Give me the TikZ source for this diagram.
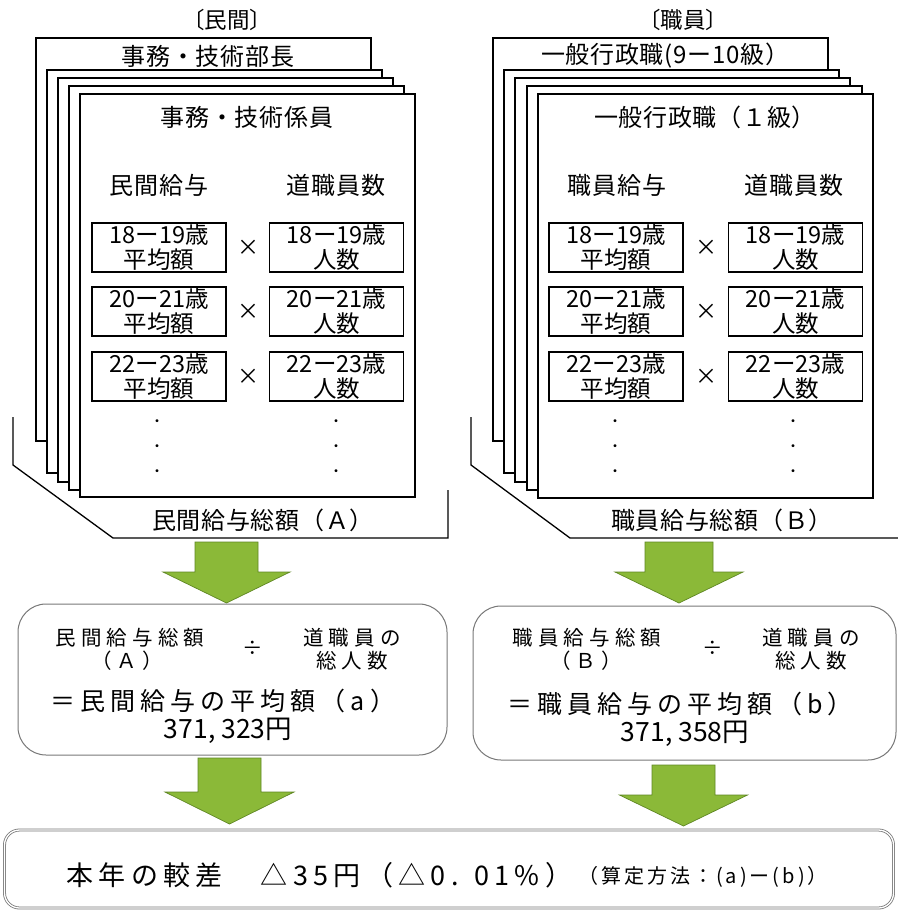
\documentclass[tikz,border=0pt]{standalone}
\usepackage{fontspec}
\setmainfont{Noto Sans CJK JP}
\newfontfamily\jpA[LetterSpace=3]{Noto Sans CJK JP}
\newfontfamily\jpB[LetterSpace=25]{Noto Sans CJK JP}
\newfontfamily\jpBB[LetterSpace=20]{Noto Sans CJK JP}
\newfontfamily\jpC[LetterSpace=20]{Noto Sans CJK JP}
\newfontfamily\jpD[LetterSpace=15]{Noto Sans CJK JP}
\definecolor{agreen}{RGB}{139,185,56}
\definecolor{aedge}{RGB}{95,135,35}
\definecolor{boxgray}{RGB}{120,120,120}
\tikzset{
  sheet/.style={draw=black, fill=white, line width=1.6pt},
  bracketline/.style={draw=black, line width=1.3pt},
  txt/.style={inner sep=0pt, font=\jpA\fontsize{24}{26}\selectfont},
  headtxt/.style={inner sep=0pt, font=\fontsize{22.5}{25}\selectfont},
  cell/.style={draw=black, line width=1.6pt, inner sep=0pt, minimum width=134pt, minimum height=49pt, align=center, font=\fontsize{23.5}{25}\selectfont},
  timesmark/.style={inner sep=0pt, font=\fontsize{22}{24}\selectfont},
  dotmark/.style={inner sep=0pt, font=\fontsize{14}{16}\selectfont},
  rbox/.style={draw=boxgray, line width=1pt, rounded corners=28pt, fill=white},
  rtxt/.style={inner sep=0pt, align=center, font=\jpB\fontsize{20.5}{23}\selectfont},
  rbig/.style={inner sep=0pt, font=\jpBB\fontsize{25}{28}\selectfont},
  rnum/.style={inner sep=0pt, font=\fontsize{26.5}{29}\selectfont},
  finalbox/.style={draw=boxgray, line width=0.8pt, double=white, double distance=1.3pt, rounded corners=15pt},
  ftxt/.style={inner sep=0pt, font=\jpC\fontsize{27}{30}\selectfont},
  fsmall/.style={inner sep=0pt, font=\jpD\fontsize{20}{23}\selectfont},
  garrow/.style={fill=agreen, draw=aedge, line width=0.7pt, line join=miter}
}
\newcommand\blockarrowdraw[6]{%
  \draw[garrow] ({#1-#5},#2) -- ({#1+#5},#2) -- ({#1+#5},#3) -- ({#1+#6},#3)
    -- (#1,#4) -- ({#1-#6},#3) -- ({#1-#5},#3) -- cycle;}
\begin{document}
\begin{tikzpicture}[x=1pt,y=-1pt]
\useasboundingbox[fill=white] (0,0) rectangle (897,910);

% ===== left stack (private sector) =====
\draw[bracketline] (13,417) -- (13,465) -- (113,538) -- (448,538) -- (448,490);
\draw[sheet] (36,38) rectangle (371,441);
\draw[sheet] (47,70) rectangle (382,473);
\draw[sheet] (58,78) rectangle (393,482);
\draw[sheet] (69,86) rectangle (404,490);
\draw[sheet] (80,94) rectangle (415,497);

\node[headtxt] (lhead) at (227,20) {〔民間〕};
\node[txt] (ltop) at (208,56) {事務・技術部長};
\node[txt] (lfront) at (247,117) {事務・技術係員};
\node[txt] (lcolA) at (159,185) {民間給与};
\node[txt] (lcolB) at (336,185) {道職員数};

\node[cell] (la1) at (159,247.5) {18ー19歳\\平均額};
\node[cell] (lb1) at (336.5,247.5) {18ー19歳\\人数};
\node[cell] (la2) at (159,311.5) {20ー21歳\\平均額};
\node[cell] (lb2) at (336.5,311.5) {20ー21歳\\人数};
\node[cell] (la3) at (159,376.5) {22ー23歳\\平均額};
\node[cell] (lb3) at (336.5,376.5) {22ー23歳\\人数};
\node[timesmark] (lx1) at (248,248) {×};
\node[timesmark] (lx2) at (248,312) {×};
\node[timesmark] (lx3) at (248,377) {×};
\foreach \yy [count=\i] in {423,448,473} {
  \node[dotmark] (ldA\i) at (157,\yy) {・};
  \node[dotmark] (ldB\i) at (336,\yy) {・};
}
\node[txt] (lsum) at (263,520) {民間給与総額（Ａ）};

% ===== right stack (staff) =====
\draw[bracketline] (471,417) -- (471,465) -- (570,538) -- (905,538) -- (905,490);
\draw[sheet] (493,38) rectangle (828,441);
\draw[sheet] (504,70) rectangle (839,473);
\draw[sheet] (515,78) rectangle (850,482);
\draw[sheet] (527,86) rectangle (862,490);
\draw[sheet] (538,94) rectangle (873,498);

\node[headtxt] (rhead) at (683,20) {〔職員〕};
\node[txt] (rtop) at (665,56) {一般行政職(9ー10級）};
\node[txt] (rfront) at (705,117) {一般行政職（１級）};
\node[txt] (rcolA) at (617,185) {職員給与};
\node[txt] (rcolB) at (794,185) {道職員数};

\node[cell] (ra1) at (616,247.5) {18ー19歳\\平均額};
\node[cell] (rb1) at (795.5,247.5) {18ー19歳\\人数};
\node[cell] (ra2) at (616,311.5) {20ー21歳\\平均額};
\node[cell] (rb2) at (795.5,311.5) {20ー21歳\\人数};
\node[cell] (ra3) at (616,376.5) {22ー23歳\\平均額};
\node[cell] (rb3) at (795.5,376.5) {22ー23歳\\人数};
\node[timesmark] (rx1) at (706,248) {×};
\node[timesmark] (rx2) at (706,312) {×};
\node[timesmark] (rx3) at (706,377) {×};
\foreach \yy [count=\i] in {423,448,473} {
  \node[dotmark] (rdA\i) at (615,\yy) {・};
  \node[dotmark] (rdB\i) at (793,\yy) {・};
}
\node[txt] (rsum) at (722,520) {職員給与総額（Ｂ）};

% ===== arrows, first row =====
\blockarrowdraw{226.5}{542}{572}{603}{31.5}{63.5}
\blockarrowdraw{679}{542}{572}{603}{34}{64}

% ===== average boxes =====
\node[rbox, minimum width=429pt, minimum height=151pt] (avgA) at (232.5,679.5) {};
\node[rtxt] (avgA1) at (130,638) {民間給与総額};
\node[rtxt] (avgA2) at (127,661) {（Ａ）};
\node[rtxt] (avgAdiv) at (253,648) {÷};
\node[rtxt] (avgA3) at (352,638) {道職員の};
\node[rtxt] (avgA4) at (352,661) {総人数};
\node[rbig] (avgA5) at (223,701) {＝民間給与の平均額（a）};
\node[rnum] (avgA6) at (228,731) {371, 323円};

\node[rbox, minimum width=423pt, minimum height=154pt] (avgB) at (684.5,683) {};
\node[rtxt] (avgB1) at (587,638) {職員給与総額};
\node[rtxt] (avgB2) at (586,661) {（Ｂ）};
\node[rtxt] (avgBdiv) at (713,648) {÷};
\node[rtxt] (avgB3) at (811,638) {道職員の};
\node[rtxt] (avgB4) at (811,661) {総人数};
\node[rbig] (avgB5) at (680,704) {＝職員給与の平均額（b）};
\node[rnum] (avgB6) at (685,734) {371, 358円};

% ===== arrows, second row =====
\blockarrowdraw{229.5}{758}{792}{824}{31.5}{64.5}
\blockarrowdraw{683.5}{765}{795}{826}{31.5}{64}

% ===== final box =====
\node[finalbox, minimum width=889pt, minimum height=78pt] (diff) at (449,869) {};
\node[ftxt, anchor=west] (diff1) at (66,875) {本年の較差　△35円（△0. 01\%）};
\node[fsmall, anchor=west] (diff2) at (578,877) {（算定方法：(a)ー(b)）};
\end{tikzpicture}
\end{document}
